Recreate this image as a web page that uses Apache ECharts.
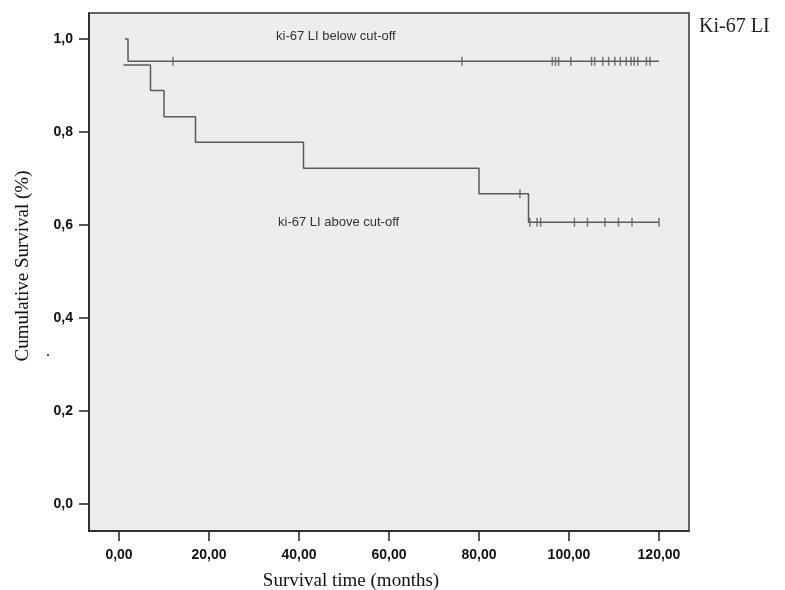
<!DOCTYPE html>
<html>
<head>
<meta charset="utf-8">
<title>Ki-67 LI survival</title>
<script src="https://cdn.jsdelivr.net/npm/echarts@6/dist/echarts.min.js"></script>
<style>
    html, body { margin: 0; padding: 0; background: #fff; }
    #main { width: 785px; height: 590px; }
</style>
</head>
<body>
<div id="main"></div>
<script>
    // Kaplan-Meier steps
    var timesAbove = [1, 7, 10, 17, 41, 80, 91, 120];
    var survAbove = [0.944, 0.889, 0.833, 0.778, 0.722, 0.667, 0.606, 0.606];
    var timesBelow = [1.3, 2, 120];
    var survBelow = [1, 0.952, 0.952];

    // censored cases (tick marks)
    var censorAboveTimes = [89.1, 91.3, 92.9, 93.7, 101.2, 104.1, 108, 111, 114, 120];
    var censorAboveSurv = [0.667, 0.606, 0.606, 0.606, 0.606, 0.606, 0.606, 0.606, 0.606, 0.606];
    var censorBelowTimes = [12, 76.2, 96.3, 97, 97.7, 100.4, 105, 105.7, 107.5, 108.8,
        110.2, 111.4, 112.7, 113.8, 114.5, 115.3, 117.2, 118];
    var censorBelowSurv = [0.952, 0.952, 0.952, 0.952, 0.952, 0.952, 0.952, 0.952, 0.952, 0.952,
        0.952, 0.952, 0.952, 0.952, 0.952, 0.952, 0.952, 0.952];

    var xTicks = [0, 20, 40, 60, 80, 100, 120];
    var yTicks = [0, 0.2, 0.4, 0.6, 0.8, 1.0];

    function pairs(xs, ys) {
        var out = [];
        for (var i = 0; i < xs.length; i++) out.push([xs[i], ys[i]]);
        return out;
    }

    var lineColor = '#5a5a5a';
    var labelFont = '"Liberation Sans Narrow", "Arial Narrow", "Liberation Sans", Arial, sans-serif';
    var serifFont = '"Liberation Serif", "Times New Roman", serif';

    var my_chart = echarts.init(document.getElementById('main'), null, {renderer: 'canvas'});
    var option = {
        animation: false,
        backgroundColor: '#ffffff',
        grid: {
            left: 89, top: 13, width: 600, height: 518,
            outerBoundsMode: 'none',
            containLabel: false,
            show: true,
            backgroundColor: '#ededed',
            borderColor: '#333',
            borderWidth: 1.5
        },
        xAxis: {
            type: 'value',
            min: -6.667,
            max: 126.667,
            axisLine: { show: true, onZero: false, lineStyle: { color: '#222', width: 1.5 } },
            axisTick: { show: true, length: 10, customValues: xTicks, lineStyle: { color: '#222', width: 1.5 } },
            axisLabel: {
                customValues: xTicks,
                margin: 17,
                fontFamily: labelFont,
                fontWeight: 'bold',
                fontSize: 14,
                color: '#111',
                formatter: function (v) { return v.toFixed(2).replace('.', ','); }
            },
            splitLine: { show: false }
        },
        yAxis: {
            type: 'value',
            min: -0.0581,
            max: 1.0559,
            axisLine: { show: true, onZero: false, lineStyle: { color: '#222', width: 1.5 } },
            axisTick: { show: true, length: 10, customValues: yTicks, lineStyle: { color: '#222', width: 1.5 } },
            axisLabel: {
                customValues: yTicks,
                margin: 16,
                fontFamily: labelFont,
                fontWeight: 'bold',
                fontSize: 14,
                color: '#111',
                formatter: function (v) { return v.toFixed(1).replace('.', ','); }
            },
            splitLine: { show: false }
        },
        series: [
            {
                name: 'ki-67 LI below cut-off',
                type: 'line',
                step: 'end',
                data: pairs(timesBelow, survBelow),
                showSymbol: false,
                lineStyle: { color: lineColor, width: 1.5 }
            },
            {
                name: 'ki-67 LI above cut-off',
                type: 'line',
                step: 'end',
                data: pairs(timesAbove, survAbove),
                showSymbol: false,
                lineStyle: { color: lineColor, width: 1.5 }
            },
            {
                type: 'scatter',
                data: pairs(censorBelowTimes, censorBelowSurv),
                symbol: 'rect',
                symbolSize: [1.5, 9],
                itemStyle: { color: lineColor }
            },
            {
                type: 'scatter',
                data: pairs(censorAboveTimes, censorAboveSurv),
                symbol: 'rect',
                symbolSize: [1.5, 9],
                itemStyle: { color: lineColor }
            }
        ],
        graphic: [
            {
                type: 'text', left: 276, top: 30,
                style: { text: 'ki-67 LI below cut-off', fontFamily: 'Arial, "Liberation Sans", sans-serif', fontSize: 13, fill: '#333' }
            },
            {
                type: 'text', left: 278, top: 216,
                style: { text: 'ki-67 LI above cut-off', fontFamily: 'Arial, "Liberation Sans", sans-serif', fontSize: 13, fill: '#333' }
            },
            {
                type: 'text', left: 699, top: 17,
                style: { text: 'Ki-67 LI', fontFamily: serifFont, fontSize: 20, fill: '#222' }
            },
            {
                type: 'text', x: 351, y: 581,
                style: { text: 'Survival time (months)', fontFamily: serifFont, fontSize: 19, fill: '#111',
                    align: 'center', verticalAlign: 'middle' }
            },
            {
                type: 'text', x: 23, y: 266, rotation: Math.PI / 2,
                style: { text: 'Cumulative Survival (%)', fontFamily: serifFont, fontSize: 19, fill: '#111',
                    align: 'center', verticalAlign: 'middle' }
            },
            {
                type: 'text', left: 46, top: 344,
                style: { text: '.', fontFamily: serifFont, fontSize: 16, fill: '#222' }
            }
        ]
    };

    my_chart.setOption(option);
</script>
</body>
</html>
